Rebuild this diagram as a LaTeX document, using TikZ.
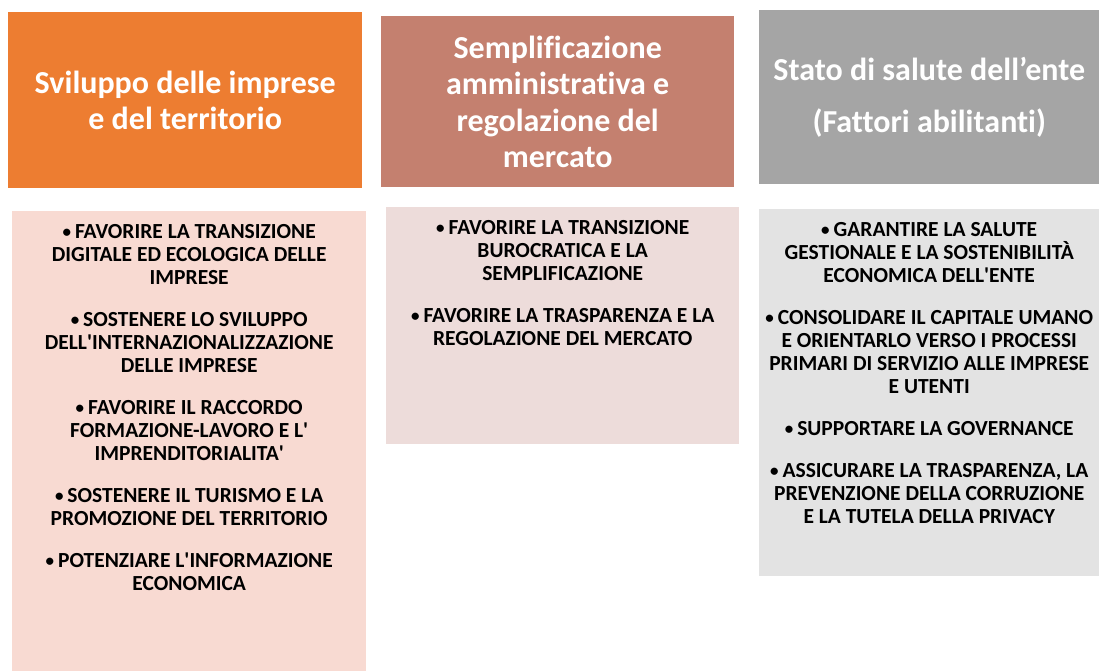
\documentclass[tikz,border=0pt]{standalone}
\usepackage{fontspec}
\setmainfont{Carlito}[Ligatures=NoCommon]
\usetikzlibrary{positioning}

\definecolor{orangehead}{HTML}{ED7D31}
\definecolor{rosehead}{HTML}{C4806F}
\definecolor{greyhead}{HTML}{A5A5A5}
\definecolor{orangebody}{HTML}{F8DAD2}
\definecolor{rosebody}{HTML}{EDDCDA}
\definecolor{greybody}{HTML}{E3E3E3}

\newcommand{\ap}{\textquotesingle}
\newcommand{\bul}{{\fontsize{17}{17}\selectfont\raisebox{1pt}{\textbullet}}\hspace{4pt}}

\tikzset{
    head/.style={shape=rectangle, inner sep=0pt, anchor=north west, text=white, align=center,
                 font=\fontsize{32}{36.5}\selectfont\bfseries},
    panel/.style={shape=rectangle, inner sep=0pt, anchor=north west},
    goals/.style={inner sep=0pt, anchor=north, align=center,
                  font=\fontsize{21.5}{23}\selectfont\bfseries}
}

\begin{document}
\begin{tikzpicture}[x=1pt, y=-1pt]
    \useasboundingbox (0,0) rectangle (1099,671);

    % intestazioni
    \node[head, fill=orangehead, minimum width=354pt, minimum height=176pt] (sviluppo) at (8,12)
        {Sviluppo delle imprese\\e del territorio};
    \node[head, fill=rosehead, minimum width=353pt, minimum height=171pt] (semplif) at (381,16)
        {Semplificazione\\amministrativa e\\regolazione del\\mercato};
    \node[head, fill=greyhead, minimum width=340pt, minimum height=174pt] (salute) at (759,10)
        {Stato di salute dell’ente\\[16pt](Fattori abilitanti)};

    % riquadri degli obiettivi
    \node[panel, fill=orangebody, minimum width=354pt, minimum height=460pt] (svilbox) at (12,211) {};
    \node[panel, fill=rosebody, minimum width=353pt, minimum height=237pt] (sempbox) at (386,207) {};
    \node[panel, fill=greybody, minimum width=340pt, minimum height=367pt] (salbox) at (759,209) {};

    \node[goals] (svilgoals) at ([yshift=-13pt]svilbox.north) {%
        \bul FAVORIRE LA TRANSIZIONE\\ DIGITALE ED ECOLOGICA DELLE\\ IMPRESE\\[19pt]
        \bul SOSTENERE LO SVILUPPO\\ DELL\ap INTERNAZIONALIZZAZIONE\\ DELLE IMPRESE\\[19pt]
        \bul FAVORIRE IL RACCORDO\\ FORMAZIONE-LAVORO E L\ap\\ IMPRENDITORIALITA\ap\\[19pt]
        \bul SOSTENERE IL TURISMO E LA\\ PROMOZIONE DEL TERRITORIO\\[19pt]
        \bul POTENZIARE L\ap INFORMAZIONE\\ ECONOMICA};
    \node[goals] (sempgoals) at ([yshift=-13pt]sempbox.north) {%
        \bul FAVORIRE LA TRANSIZIONE\\ BUROCRATICA E LA\\ SEMPLIFICAZIONE\\[19pt]
        \bul FAVORIRE LA TRASPARENZA E LA\\ REGOLAZIONE DEL MERCATO};
    \node[goals] (salgoals) at ([yshift=-13pt]salbox.north) {%
        \bul GARANTIRE LA SALUTE\\ GESTIONALE E LA SOSTENIBILITÀ\\ ECONOMICA DELL\ap ENTE\\[19pt]
        \bul CONSOLIDARE IL CAPITALE UMANO\\ E ORIENTARLO VERSO I PROCESSI\\ PRIMARI DI SERVIZIO ALLE IMPRESE\\ E UTENTI\\[19pt]
        \bul SUPPORTARE LA GOVERNANCE\\[19pt]
        \bul ASSICURARE LA TRASPARENZA, LA\\ PREVENZIONE DELLA CORRUZIONE\\ E LA TUTELA DELLA PRIVACY};
\end{tikzpicture}
\end{document}
